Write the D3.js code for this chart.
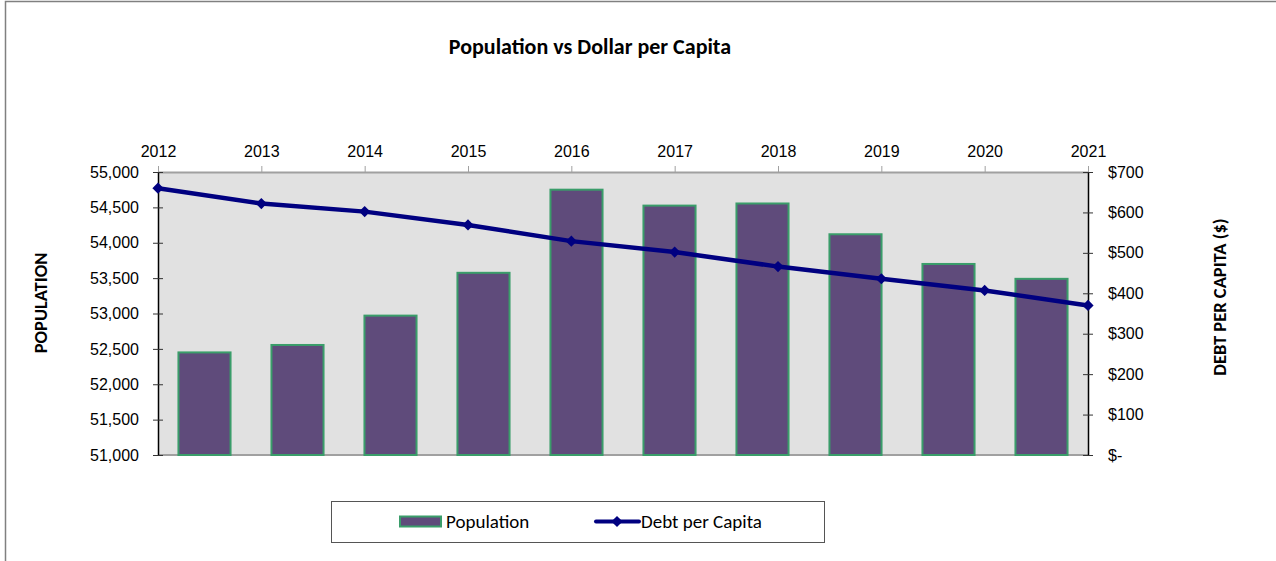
<!DOCTYPE html>
<html>
<head>
<meta charset="utf-8">
<script src="https://cdn.jsdelivr.net/npm/d3@7/dist/d3.min.js"></script>
<style>
  html, body { margin: 0; padding: 0; background: #fff; }
  svg { display: block; font-family: Carlito, Calibri, Lato, sans-serif; }
</style>
</head>
<body>
<svg id="chart" width="1276" height="561"></svg>
<script>
// Chart data
const years = ["2012", "2013", "2014", "2015", "2016", "2017", "2018", "2019", "2020", "2021"];
const population = [52450, 52555, 52970, 53575, 54750, 54525, 54555, 54120, 53700, 53490];
const debtPerCapita = [660, 622, 602, 569, 529, 502, 466, 436, 407, 370];
const populationTicks = [51000, 51500, 52000, 52500, 53000, 53500, 54000, 54500, 55000];
const debtTicks = [0, 100, 200, 300, 400, 500, 600, 700];

const svg = d3.select("#chart");

// Plot area geometry
const plot = { left: 158, right: 1088, top: 172, bottom: 455 };

// Outer chart frame
svg.append("rect")
  .attr("x", 5.5).attr("y", 1.5)
  .attr("width", 1300).attr("height", 600)
  .attr("fill", "#fff")
  .attr("stroke", "#808080").attr("stroke-width", 1.5);

// Scales
const xBand = d3.scaleBand()
  .domain(years)
  .range([plot.left, plot.right])
  .paddingInner(0.44)
  .paddingOuter(0.22);

const xPoint = d3.scalePoint()
  .domain(years)
  .range([plot.left, plot.right]);

const yLeft = d3.scaleLinear().domain([51000, 55000]).range([plot.bottom, plot.top]);
const yRight = d3.scaleLinear().domain([0, 700]).range([plot.bottom, plot.top]);

// Plot background
svg.append("rect")
  .attr("x", plot.left).attr("y", plot.top)
  .attr("width", plot.right - plot.left)
  .attr("height", plot.bottom - plot.top)
  .attr("fill", "#e1e1e1");

// Bottom edge of plot area
svg.append("line")
  .attr("x1", plot.left).attr("x2", plot.right)
  .attr("y1", plot.bottom).attr("y2", plot.bottom)
  .attr("stroke", "#a0a0a0").attr("stroke-width", 2);

// Population bars
svg.append("g")
  .selectAll("rect")
  .data(years.map((y, i) => ({ year: y, value: population[i] })))
  .join("rect")
  .attr("x", d => xBand(d.year))
  .attr("y", d => yLeft(d.value))
  .attr("width", xBand.bandwidth())
  .attr("height", d => yLeft(51000) - yLeft(d.value))
  .attr("fill", "#5f4b7b")
  .attr("stroke", "#3a9d6a")
  .attr("stroke-width", 2);

// Top (year) axis
const topAxis = svg.append("g")
  .attr("transform", `translate(0,${plot.top})`)
  .call(d3.axisTop(xPoint).tickSize(6).tickPadding(9).tickSizeOuter(0));
topAxis.select(".domain").attr("stroke", "#a0a0a0").attr("stroke-width", 2);
topAxis.selectAll(".tick line").attr("stroke", "#a0a0a0");
topAxis.selectAll(".tick text")
  .attr("fill", "#000")
  .style("font-size", "16px");

// Left (population) axis
const leftAxis = svg.append("g")
  .attr("transform", `translate(${plot.left},0)`)
  .call(d3.axisLeft(yLeft)
    .tickValues(populationTicks)
    .tickFormat(d3.format(","))
    .tickSize(5).tickPadding(14).tickSizeOuter(0));
leftAxis.select(".domain").attr("stroke", "#000").attr("stroke-width", 1.5);
leftAxis.selectAll(".tick line").attr("x1", 5).attr("x2", -5).attr("stroke", "#333");
leftAxis.selectAll(".tick text").attr("fill", "#000").style("font-size", "16px");

// Right (debt per capita) axis
const dollarFormat = d => d === 0 ? "$-" : "$" + d3.format(",")(d);
const rightAxis = svg.append("g")
  .attr("transform", `translate(${plot.right},0)`)
  .call(d3.axisRight(yRight)
    .tickValues(debtTicks)
    .tickFormat(dollarFormat)
    .tickSize(5).tickPadding(15).tickSizeOuter(0));
rightAxis.select(".domain").attr("stroke", "#000").attr("stroke-width", 1.5);
rightAxis.selectAll(".tick line").attr("x1", -5).attr("x2", 5).attr("stroke", "#333");
rightAxis.selectAll(".tick text").attr("fill", "#000").style("font-size", "16px");

// Debt per capita line
const lineData = years.map((y, i) => ({ year: y, value: debtPerCapita[i] }));
svg.append("path")
  .datum(lineData)
  .attr("fill", "none")
  .attr("stroke", "#000080")
  .attr("stroke-width", 4.5)
  .attr("stroke-linejoin", "round")
  .attr("d", d3.line().x(d => xPoint(d.year)).y(d => yRight(d.value)));

const diamond = d3.symbol().type(d3.symbolDiamond2).size(80);
svg.append("g")
  .selectAll("path")
  .data(lineData)
  .join("path")
  .attr("transform", d => `translate(${xPoint(d.year)},${yRight(d.value)})`)
  .attr("d", diamond)
  .attr("fill", "#000080");

// Title
svg.append("text")
  .attr("x", 590).attr("y", 54)
  .attr("text-anchor", "middle")
  .style("font-size", "22px").style("font-weight", "bold")
  .text("Population vs Dollar per Capita");

// Axis titles
svg.append("text")
  .attr("transform", "translate(47,303) rotate(-90)")
  .attr("text-anchor", "middle")
  .style("font-size", "18.5px").style("font-weight", "bold")
  .text("POPULATION");

svg.append("text")
  .attr("transform", "translate(1226,297) rotate(-90)")
  .attr("text-anchor", "middle")
  .style("font-size", "18.5px").style("font-weight", "bold")
  .text("DEBT PER CAPITA ($)");

// Legend
const legend = svg.append("g");
legend.append("rect")
  .attr("x", 331.5).attr("y", 501.5)
  .attr("width", 493).attr("height", 41)
  .attr("fill", "#fff")
  .attr("stroke", "#555").attr("stroke-width", 1);

legend.append("rect")
  .attr("x", 400).attr("y", 516.5)
  .attr("width", 41).attr("height", 10)
  .attr("fill", "#5f4b7b")
  .attr("stroke", "#3a9d6a").attr("stroke-width", 2);
legend.append("text")
  .attr("x", 446).attr("y", 528)
  .style("font-size", "19px")
  .text("Population");

legend.append("line")
  .attr("x1", 596).attr("x2", 639)
  .attr("y1", 521.5).attr("y2", 521.5)
  .attr("stroke", "#000080").attr("stroke-width", 4)
  .attr("stroke-linecap", "round");
legend.append("path")
  .attr("transform", "translate(617,521.5)")
  .attr("d", diamond)
  .attr("fill", "#000080");
legend.append("text")
  .attr("x", 641).attr("y", 528)
  .style("font-size", "19px")
  .text("Debt per Capita");
</script>
</body>
</html>
